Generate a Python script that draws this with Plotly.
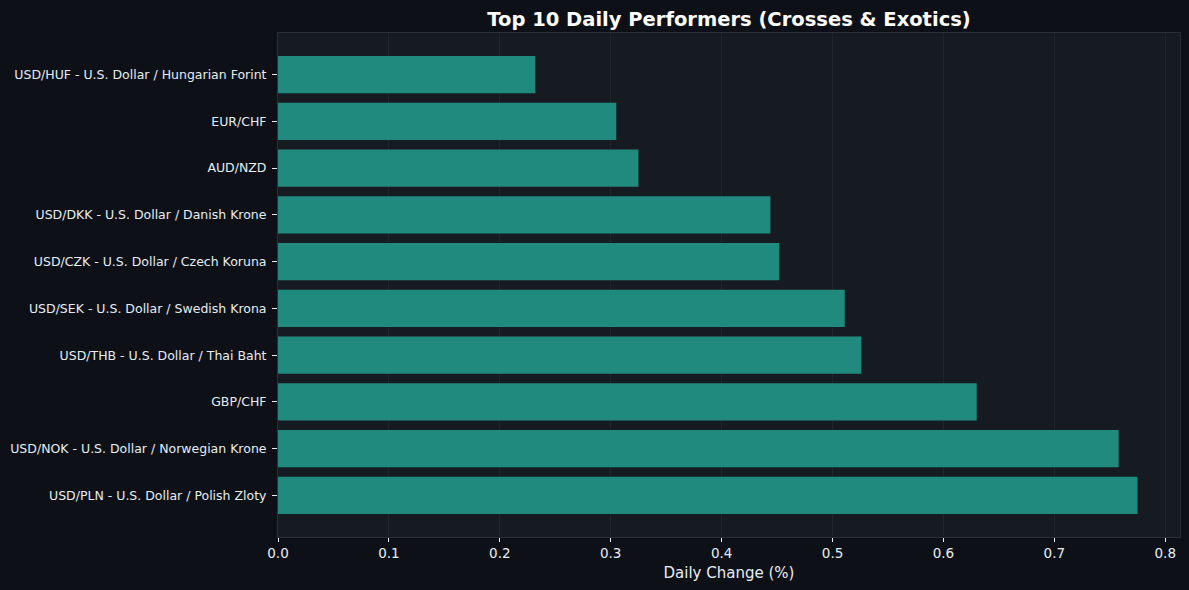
import plotly.graph_objects as go

categories = [
    "USD/PLN - U.S. Dollar / Polish Zloty",
    "USD/NOK - U.S. Dollar / Norwegian Krone",
    "GBP/CHF",
    "USD/THB - U.S. Dollar / Thai Baht",
    "USD/SEK - U.S. Dollar / Swedish Krona",
    "USD/CZK - U.S. Dollar / Czech Koruna",
    "USD/DKK - U.S. Dollar / Danish Krone",
    "AUD/NZD",
    "EUR/CHF",
    "USD/HUF - U.S. Dollar / Hungarian Forint",
]
daily_change = [0.775, 0.758, 0.630, 0.526, 0.511, 0.452, 0.444, 0.325, 0.305, 0.232]
x_ticks = [0.0, 0.1, 0.2, 0.3, 0.4, 0.5, 0.6, 0.7, 0.8]

fig = go.Figure(go.Bar(
    x=daily_change,
    y=categories,
    orientation="h",
    marker=dict(color="#208a7e", line=dict(width=0)),
))

fig.update_layout(
    width=1189, height=590,
    paper_bgcolor="#0d1117",
    plot_bgcolor="#161b22",
    margin=dict(l=278, r=9, t=33, b=53),
    bargap=0.2,
    showlegend=False,
    font=dict(family="DejaVu Sans", color="#e6edf3"),
    title=dict(
        text="<b>Top 10 Daily Performers (Crosses & Exotics)</b>",
        x=(278 + 1180) / 2 / 1189, xanchor="center",
        y=1 - 19 / 590, yanchor="middle",
        font=dict(size=19.5, color="#ffffff", family="DejaVu Sans"),
    ),
    xaxis=dict(
        range=[0, 0.8133],
        tickvals=x_ticks,
        ticktext=[f"{v:.1f}" for v in x_ticks],
        tickfont=dict(size=13.5, color="#e6edf3"),
        ticks="outside", ticklen=4, tickcolor="#e6edf3", tickwidth=1,
        showgrid=True, gridcolor="rgba(255,255,255,0.045)", gridwidth=1,
        zeroline=False,
        showline=True, linecolor="#2b3038", linewidth=1, mirror=True,
        layer="above traces",
        title=dict(text="Daily Change (%)", font=dict(size=15, color="#e6edf3"), standoff=7),
    ),
    yaxis=dict(
        range=[-0.89, 9.89],
        tickfont=dict(size=12.5, color="#e6edf3"),
        ticks="outside", ticklen=5, tickcolor="#e6edf3", tickwidth=1,
        showgrid=False, zeroline=False,
        showline=True, linecolor="#2b3038", linewidth=1, mirror=True,
        ticklabelstandoff=3,
    ),
)

fig.write_html(
    "out.html",
    config={"displayModeBar": False},
    post_script="document.body.style.margin='0';document.body.style.background='#0d1117';",
)
